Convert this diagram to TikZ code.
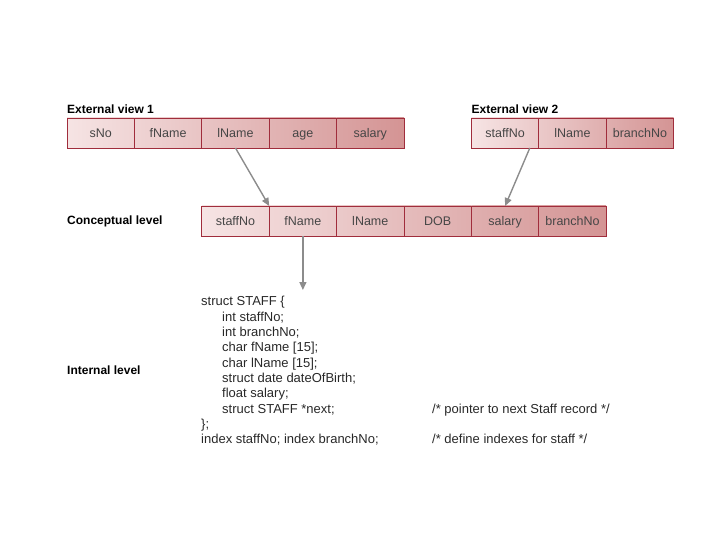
\documentclass[tikz,border=0pt]{standalone}
\usepackage{fontspec}
\setmainfont{Liberation Sans}
\usetikzlibrary{positioning, arrows.meta}
\definecolor{cellline}{RGB}{160,45,60}
\definecolor{celllight}{RGB}{246,228,228}
\definecolor{celldark}{RGB}{212,148,148}
\definecolor{celltext}{RGB}{70,70,70}
\definecolor{codetext}{RGB}{40,40,40}
\definecolor{arrowgray}{RGB}{140,140,140}

\begin{document}
\begin{tikzpicture}[x=1pt, y=-1pt,
    node distance=0pt,
    cell/.style 2 args={rectangle, draw=cellline, line width=0.8pt,
      left color=celldark!#1!celllight, right color=celldark!#2!celllight,
      minimum width=67.4pt, minimum height=30pt, inner sep=0pt, outer sep=0pt,
      text height=11.5pt, text depth=2.5pt,
      text=celltext, font=\fontsize{12.5}{15}\selectfont},
    lbl/.style={inner sep=0pt, font=\bfseries\fontsize{12}{14}\selectfont},
    arrow/.style={draw=arrowgray, line width=1.4pt, -{Triangle[length=8pt, width=7pt]}}]

  \useasboundingbox (0,0) rectangle (720,540);

  % External view 1
  \node[cell={0}{20}, anchor=north west] (sno1) at (67,118) {sNo};
  \node[cell={20}{40}, right=of sno1] (fname1) {fName};
  \node[cell={40}{60}, right=of fname1] (lname1) {lName};
  \node[cell={60}{80}, right=of lname1] (age1) {age};
  \node[cell={80}{100}, right=of age1] (salary1) {salary};
  \node[lbl, above right=4pt and 0pt of sno1.north west] (ev1lbl) {External view 1};

  % Conceptual level
  \node[cell={0}{17}, below=58pt of lname1] (cstaff) {staffNo};
  \node[cell={17}{33}, right=of cstaff] (cfname) {fName};
  \node[cell={33}{50}, right=of cfname] (clname) {lName};
  \node[cell={50}{67}, right=of clname] (cdob) {DOB};
  \node[cell={67}{83}, right=of cdob] (csalary) {salary};
  \node[cell={83}{100}, right=of csalary] (cbranch) {branchNo};
  \node[lbl, anchor=west] (conclbl) at (sno1.west |- cstaff.west) {Conceptual level};

  % External view 2
  \node[cell={0}{33}, above=58pt of csalary] (staff2) {staffNo};
  \node[cell={33}{67}, right=of staff2] (lname2) {lName};
  \node[cell={67}{100}, right=of lname2] (branch2) {branchNo};
  \node[lbl, above right=4pt and 0pt of staff2.north west] (ev2lbl) {External view 2};

  % Internal level
  \node[anchor=north west, inner sep=0pt, text=codetext,
    font=\fontsize{13}{15.3}\selectfont] (code) at (201,295) {%
    \begin{tabular}{@{}p{231pt}@{}l@{}}
    struct STAFF \{ & \\
    \hspace*{21pt}int staffNo; & \\
    \hspace*{21pt}int branchNo; & \\
    \hspace*{21pt}char fName [15]; & \\
    \hspace*{21pt}char lName [15]; & \\
    \hspace*{21pt}struct date dateOfBirth; & \\
    \hspace*{21pt}float salary; & \\
    \hspace*{21pt}struct STAFF *next; & /* pointer to next Staff record */\\
    \}; & \\
    index staffNo; index branchNo; & /* define indexes for staff */
    \end{tabular}};
  \node[lbl, anchor=west] (intlbl) at (67,370) {Internal level};

  % Arrows
  \draw[arrow] (lname1.south) -- (cstaff.north east);
  \draw[arrow] ([xshift=-9pt]staff2.south east) -- (csalary.north);
  \draw[arrow, shorten >=5pt] (cfname.south) -- (cfname.south |- code.north);
\end{tikzpicture}
\end{document}
